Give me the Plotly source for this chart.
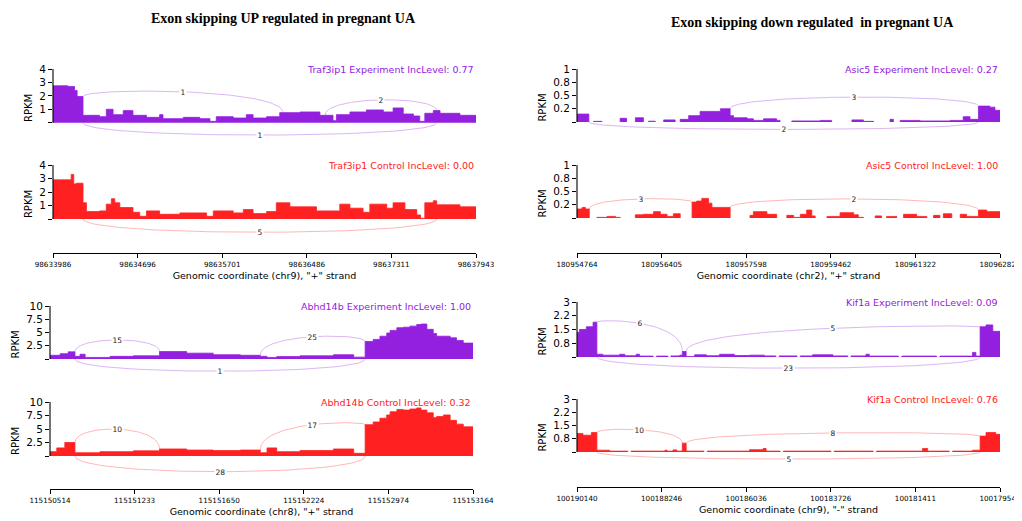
import plotly.graph_objects as go

W, H = 1022, 521          # browser window
OFF = 8                   # default page margin around the plot div
FW, FH = W - OFF, H - OFF  # figure size placed inside the window
PURPLE = "#9320df"
RED = "#ff2121"

# ---------------- data ----------------
# coverage: bin edges (scaled genomic position 0..1000) and RPKM per bin (None = no coverage)
traf_exp_edges = [0, 35, 51, 57, 71, 110, 126, 142, 166, 189, 221, 252, 260, 308, 347, 371, 386, 426, 457, 473,
                  505, 536, 584, 631, 662, 670, 702, 741, 781, 804, 828, 852, 867, 879, 899, 915, 962, 1000]
traf_exp_vals = [2.75, 2.7, 2.4, 1.95, 0.55, 0.45, 1.0, 0.6, 0.9, 0.55, 0.4, 0.6, 0.3, 0.4, 0.3, 0.1, 0.45, 0.35,
                 0.6, 0.35, 0.45, 0.75, 0.8, 0.55, 0.15, 0.6, 0.8, 0.95, 0.8, 1.1, 0.65, 0.5, 0.1, 0.7, 0.9, 0.7, 0.55]

traf_ctl_edges = [0, 43, 49, 55, 71, 79, 110, 126, 138, 146, 158, 189, 205, 221, 252, 300, 363, 379, 426, 450,
                  473, 505, 528, 560, 623, 678, 702, 733, 749, 789, 804, 832, 860, 869, 879, 899, 907, 962, 1000]
traf_ctl_vals = [2.9, 3.3, 2.6, 2.65, 1.2, 0.55, 0.6, 1.1, 1.5, 1.2, 0.85, 0.5, 0.2, 0.6, 0.35, 0.45, 0.2, 0.6,
                 0.45, 0.7, 0.4, 0.55, 1.2, 0.9, 0.6, 1.1, 0.8, 0.5, 1.1, 0.8, 1.2, 0.7, 0.3, 0.05, 1.2, 1.35,
                 1.05, 0.9]

abhd_exp_edges = [0, 24, 43, 59, 71, 83, 142, 197, 259, 323, 386, 450, 497, 513, 536, 591, 670, 718, 745, 764,
                  780, 796, 804, 820, 835, 851, 867, 877, 891, 906, 914, 946, 961, 977, 1000]
abhd_exp_vals = [0.7, 1.0, 1.35, 0.5, 0.9, 0.3, 0.5, 0.6, 1.4, 1.1, 0.8, 0.7, 0.5, 0.3, 0.45, 0.6, 0.8, 0.35,
                 3.3, 3.7, 4.3, 4.9, 5.4, 5.9, 6.0, 6.2, 6.5, 6.6, 5.6, 4.8, 4.3, 4.0, 3.5, 3.0]

abhd_ctl_edges = [0, 16, 35, 59, 118, 197, 259, 323, 386, 450, 497, 513, 536, 591, 670, 718, 745, 764, 780, 796,
                  804, 820, 835, 851, 867, 877, 891, 906, 914, 930, 946, 961, 977, 1000]
abhd_ctl_vals = [0.8, 1.5, 2.5, 0.6, 0.8, 0.95, 1.3, 1.1, 1.0, 1.1, 0.6, 1.5, 0.8, 1.0, 1.3, 0.5, 5.8, 6.3, 7.0,
                 7.6, 8.2, 8.6, 8.5, 8.7, 8.9, 8.5, 8.0, 7.1, 7.3, 7.6, 6.6, 5.9, 5.4]

asic_exp_edges = [0, 28, 39, 59, 102, 117, 138, 157, 169, 185, 205, 232, 244, 264, 291, 339, 362, 370, 402, 417,
                  441, 472, 480, 508, 575, 602, 650, 677, 701, 740, 748, 764, 811, 882, 913, 929, 949, 976, 988, 1000]
asic_exp_vals = [0.15, None, 0.012, None, 0.07, None, 0.08, None, 0.015, None, 0.04, None, 0.05, 0.12, 0.2, 0.25,
                 0.12, 0.08, 0.06, 0.03, 0.06, 0.03, None, 0.02, 0.03, None, 0.04, 0.012, None, 0.05, None, 0.03,
                 0.02, 0.03, 0.1, 0.05, 0.3, 0.28, 0.22]

asic_ctl_edges = [0, 12, 20, 29, 47, 71, 91, 102, 138, 157, 181, 197, 213, 228, 244, 272, 283, 295, 311, 319,
                  362, 409, 417, 449, 472, 496, 512, 528, 543, 555, 563, 591, 622, 654, 665, 677, 705, 720, 732, 756,
                  772, 803, 827, 843, 858, 866, 886, 906, 921, 949, 969, 1000]
asic_ctl_vals = [0.17, 0.2, 0.17, None, 0.012, 0.03, 0.012, None, 0.06, 0.07, 0.12, 0.07, 0.03, 0.08, None, 0.3,
                 0.32, 0.37, 0.28, 0.2, None, 0.05, 0.12, 0.07, None, 0.05, 0.012, 0.07, 0.15, 0.04, None, 0.03,
                 0.1, 0.06, 0.012, None, 0.04, None, 0.03, None, 0.07, 0.03, None, 0.05, None, 0.08, None, 0.07,
                 0.03, 0.15, 0.12]

kif_exp_edges = [0, 6, 22, 38, 47, 61, 101, 113, 140, 148, 156, 180, 188, 215, 222, 243, 249, 258, 278, 306, 337,
                 372, 408, 443, 470, 478, 520, 528, 557, 605, 640, 648, 683, 691, 760, 768, 850, 858, 935, 943, 953,
                 967, 983, 1000]
kif_exp_vals = [1.35, 1.5, 1.65, 1.9, 0.15, 0.1, 0.15, 0.07, 0.15, 0.05, 0.05, None, 0.05, None, 0.06, 0.1, 0.3,
                0.03, 0.12, 0.07, 0.15, 0.08, 0.1, 0.06, None, 0.06, None, 0.06, 0.12, 0.06, None, 0.06, 0.15, 0.05,
                None, 0.05, None, 0.05, 0.25, 0.05, 1.65, 1.75, 1.4]

kif_ctl_edges = [0, 14, 34, 47, 77, 120, 128, 208, 213, 227, 236, 249, 258, 300, 308, 408, 440, 447, 480, 488,
                 600, 608, 700, 708, 817, 829, 880, 888, 935, 953, 967, 990, 1000]
kif_ctl_vals = [1.05, 0.95, 1.1, 0.1, 0.05, None, 0.05, 0.1, 0.05, 0.12, 0.05, 0.5, 0.05, None, 0.05, 0.13, 0.2,
                0.05, None, 0.05, None, 0.05, None, 0.05, 0.2, 0.05, None, 0.05, 0.1, 0.9, 1.1, 1.0]

# junctions: donor, acceptor (scaled positions), read count, label height (RPKM units; negative = below)
traf_exp_jd, traf_exp_ja, traf_exp_jn, traf_exp_jh = [71, 643, 71], [544, 907, 907], [1, 2, 1], [2.3, 1.7, -0.92]
traf_ctl_jd, traf_ctl_ja, traf_ctl_jn, traf_ctl_jh = [71], [907], [5], [-0.98]
abhd_exp_jd, abhd_exp_ja, abhd_exp_jn, abhd_exp_jh = [59, 497, 59], [259, 745, 745], [15, 25, 1], [3.6, 4.2, -2.3]
abhd_ctl_jd, abhd_ctl_ja, abhd_ctl_jn, abhd_ctl_jh = [59, 497, 59], [259, 745, 745], [10, 17, 28], [4.97, 5.8, -2.9]
asic_exp_jd, asic_exp_ja, asic_exp_jn, asic_exp_jh = [362, 28], [949, 949], [3, 2], [0.47, -0.14]
asic_ctl_jd, asic_ctl_ja, asic_ctl_jn, asic_ctl_jh = [29, 362], [272, 949], [3, 2], [0.36, 0.36]
kif_exp_jd, kif_exp_ja, kif_exp_jn, kif_exp_jh = [47, 258, 47], [249, 953, 953], [6, 5, 23], [1.84, 1.57, -0.61]
kif_ctl_jd, kif_ctl_ja, kif_ctl_jn, kif_ctl_jh = [47, 258, 47], [249, 953, 953], [10, 8, 5], [1.26, 1.08, -0.4]

# track labels and y ticks
traf_exp_label = "Traf3ip1 Experiment IncLevel: 0.77"
traf_ctl_label = "Traf3ip1 Control IncLevel: 0.00"
abhd_exp_label = "Abhd14b Experiment IncLevel: 1.00"
abhd_ctl_label = "Abhd14b Control IncLevel: 0.32"
asic_exp_label = "Asic5 Experiment IncLevel: 0.27"
asic_ctl_label = "Asic5 Control IncLevel: 1.00"
kif_exp_label = "Kif1a Experiment IncLevel: 0.09"
kif_ctl_label = "Kif1a Control IncLevel: 0.76"

traf_yticks, traf_ytext = [0, 1, 2, 3, 4], ["", "1", "2", "3", "4"]
abhd_yticks, abhd_ytext = [0, 2.5, 5, 7.5, 10], ["", "2.5", "5", "7.5", "10"]
asic_yticks, asic_ytext = [0, 0.25, 0.5, 0.75, 1], ["", "0.2", "0.5", "0.8", "1"]
kif_yticks, kif_ytext = [0, 0.75, 1.5, 2.25, 3], ["", "0.8", "1.5", "2.2", "3"]

# genomic coordinate axes
traf_coords = ["98633986", "98634696", "98635701", "98636486", "98637311", "98637943"]
abhd_coords = ["115150514", "115151233", "115151650", "115152224", "115152974", "115153164"]
asic_coords = ["180954764", "180956405", "180957598", "180959462", "180961322", "180962826"]
kif_coords = ["100190140", "100188246", "100186036", "100183726", "100181411", "100179548"]
traf_axis_title = 'Genomic coordinate (chr9), "+" strand'
abhd_axis_title = 'Genomic coordinate (chr8), "+" strand'
asic_axis_title = 'Genomic coordinate (chr2), "+" strand'
kif_axis_title = 'Genomic coordinate (chr9), "-" strand'
coord_positions = [0, 200, 400, 600, 800, 1000]

title_left = "Exon skipping UP regulated in pregnant UA"
title_right = "Exon skipping down regulated\u00a0 in pregnant UA"

# ---------------- layout geometry (window pixels) ----------------
BELOW = 24  # px of room under baseline for lower arcs
tracks = [
    (traf_exp_edges, traf_exp_vals, traf_exp_jd, traf_exp_ja, traf_exp_jn, traf_exp_jh, traf_exp_label, PURPLE,
     traf_yticks, traf_ytext, 53, 476, 69, 122.7),
    (traf_ctl_edges, traf_ctl_vals, traf_ctl_jd, traf_ctl_ja, traf_ctl_jn, traf_ctl_jh, traf_ctl_label, RED,
     traf_yticks, traf_ytext, 53, 476, 165, 219),
    (abhd_exp_edges, abhd_exp_vals, abhd_exp_jd, abhd_exp_ja, abhd_exp_jn, abhd_exp_jh, abhd_exp_label, PURPLE,
     abhd_yticks, abhd_ytext, 50, 473, 306, 359),
    (abhd_ctl_edges, abhd_ctl_vals, abhd_ctl_jd, abhd_ctl_ja, abhd_ctl_jn, abhd_ctl_jh, abhd_ctl_label, RED,
     abhd_yticks, abhd_ytext, 50, 473, 402, 456),
    (asic_exp_edges, asic_exp_vals, asic_exp_jd, asic_exp_ja, asic_exp_jn, asic_exp_jh, asic_exp_label, PURPLE,
     asic_yticks, asic_ytext, 577, 1000, 69, 122),
    (asic_ctl_edges, asic_ctl_vals, asic_ctl_jd, asic_ctl_ja, asic_ctl_jn, asic_ctl_jh, asic_ctl_label, RED,
     asic_yticks, asic_ytext, 577, 1000, 165, 218),
    (kif_exp_edges, kif_exp_vals, kif_exp_jd, kif_exp_ja, kif_exp_jn, kif_exp_jh, kif_exp_label, PURPLE,
     kif_yticks, kif_ytext, 577, 1000, 302, 357),
    (kif_ctl_edges, kif_ctl_vals, kif_ctl_jd, kif_ctl_ja, kif_ctl_jn, kif_ctl_jh, kif_ctl_label, RED,
     kif_yticks, kif_ytext, 577, 1000, 399, 452),
]
coord_axes = [
    (traf_coords, traf_axis_title, 53, 476, 253),
    (abhd_coords, abhd_axis_title, 50, 473, 489),
    (asic_coords, asic_axis_title, 577, 1000, 253),
    (kif_coords, kif_axis_title, 577, 1000, 487),
]

FONT = "DejaVu Sans"


def px_x(p):
    return (p - OFF) / FW


def px_y(p):
    return 1 - (p - OFF) / FH


def ax_id(i):
    return "" if i == 1 else str(i)


def cov_at(edges, vals, x, left):
    for i in range(len(vals)):
        a, b = edges[i], edges[i + 1]
        if (left and a < x <= b) or ((not left) and a <= x < b):
            return vals[i] or 0.0
    return 0.0


def bezier(x0, y0, x1, y1, h, n=60):
    xs, ys = [], []
    for k in range(n + 1):
        t = k / n
        u = 1 - t
        xs.append(u ** 3 * x0 + 3 * u * u * t * x0 + 3 * u * t * t * x1 + t ** 3 * x1)
        ys.append(u ** 3 * y0 + 3 * u * u * t * h + 3 * u * t * t * h + t ** 3 * y1)
    return xs, ys


def coverage_polygons(edges, vals):
    """Closed step polygons, one per contiguous run of coverage, separated by None."""
    xs, ys = [], []
    run = False
    for k, v in enumerate(vals):
        if v is None:
            if run:
                xs += [edges[k], None]
                ys += [0, None]
                run = False
            continue
        if not run:
            xs.append(edges[k])
            ys.append(0)
            run = True
        xs += [edges[k], edges[k + 1]]
        ys += [v, v]
    if run:
        xs.append(edges[len(vals)])
        ys.append(0)
    return xs, ys


fig = go.Figure()
layout = dict(width=FW, height=FH, margin=dict(l=0, r=0, t=0, b=0, pad=0, autoexpand=False),
              paper_bgcolor="white", plot_bgcolor="rgba(0,0,0,0)", showlegend=False,
              font=dict(family=FONT, color="black"))
annotations = []
shapes = []

for i, (edges, vals, jd, ja, jn, jh, label, color, yt, ytt, x0p, x1p, topp, zerop) in enumerate(tracks, start=1):
    s = ax_id(i)
    xa, ya = "x" + s, "y" + s
    ymax = yt[-1]
    ppu = (zerop - topp) / ymax
    ymin = -BELOW / ppu
    xs, ys = coverage_polygons(edges, vals)
    fig.add_trace(go.Scatter(x=xs, y=ys, xaxis=xa, yaxis=ya, mode="lines", fill="toself",
                             fillcolor=color, line=dict(color=color, width=0.8), connectgaps=False,
                             hoverinfo="skip"))
    for d, a, n, m in zip(jd, ja, jn, jh):
        if m >= 0:
            y0 = cov_at(edges, vals, d, True)
            y1 = cov_at(edges, vals, a, False)
        else:
            y0 = y1 = 0.0
        h = (m - (y0 + y1) / 8) * 4 / 3
        bx, by = bezier(d, y0, a, y1, h)
        fig.add_trace(go.Scatter(x=bx, y=by, xaxis=xa, yaxis=ya, mode="lines",
                                 line=dict(color=color, width=0.8), opacity=0.4, hoverinfo="skip"))
        annotations.append(dict(x=(d + a) / 2, y=m, xref=xa, yref=ya, text=str(n), showarrow=False,
                                xanchor="center", yanchor="middle",
                                font=dict(size=7.5, color="#222", family=FONT), bgcolor="white",
                                borderpad=0.5))
    annotations.append(dict(x=1, y=ymax, xref=f"{xa} domain", yref=ya, text=label, showarrow=False,
                            xanchor="right", yanchor="middle", font=dict(size=9.5, color=color, family=FONT)))
    shapes.append(dict(type="line", xref=f"{xa} domain", yref=ya, x0=0, x1=0, y0=0, y1=ymax,
                       line=dict(color="black", width=1.1)))
    layout["xaxis" + s] = dict(domain=[px_x(x0p), px_x(x1p)], range=[0, 1000], visible=False,
                               anchor=ya, fixedrange=True, automargin=False)
    layout["yaxis" + s] = dict(domain=[px_y(zerop + BELOW), px_y(topp)], range=[ymin, ymax], anchor=xa,
                               tickvals=yt, ticktext=ytt, ticks="outside", ticklen=4, tickwidth=1,
                               tickcolor="black", showline=False, showgrid=False, zeroline=False,
                               automargin=False, tickfont=dict(size=10.5, family=FONT),
                               title=dict(text="RPKM", font=dict(size=10, family=FONT), standoff=4))

for j, (coords, title, x0p, x1p, ypx) in enumerate(coord_axes, start=9):
    s = ax_id(j)
    xa, ya = "x" + s, "y" + s
    fig.add_trace(go.Scatter(x=[coord_positions[0]], y=[0], xaxis=xa, yaxis=ya, mode="markers",
                             marker=dict(opacity=0), hoverinfo="skip"))
    layout["xaxis" + s] = dict(domain=[px_x(x0p), px_x(x1p)], range=[0, 1000], anchor=ya,
                               tickvals=coord_positions, ticktext=coords, ticks="outside", ticklen=4,
                               tickwidth=1, tickcolor="black", showline=True, linecolor="black", linewidth=1.1,
                               showgrid=False, zeroline=False, automargin=False, ticklabeloverflow="allow",
                               tickfont=dict(size=7.2, family=FONT),
                               title=dict(text=title, font=dict(size=9.5, family=FONT), standoff=4))
    layout["yaxis" + s] = dict(domain=[px_y(ypx), px_y(ypx - 2)], visible=False, anchor=xa, range=[0, 1],
                               automargin=False)

annotations.append(dict(x=px_x(283), y=px_y(19), xref="paper", yref="paper", text=f"<b>{title_left}</b>",
                        showarrow=False, xanchor="center", yanchor="middle",
                        font=dict(size=14, family="Liberation Serif", color="black")))
annotations.append(dict(x=px_x(812), y=px_y(23), xref="paper", yref="paper", text=f"<b>{title_right}</b>",
                        showarrow=False, xanchor="center", yanchor="middle",
                        font=dict(size=14, family="Liberation Serif", color="black")))

layout["annotations"] = annotations
layout["shapes"] = shapes
fig.update_layout(**layout)
fig.write_html("out.html")
